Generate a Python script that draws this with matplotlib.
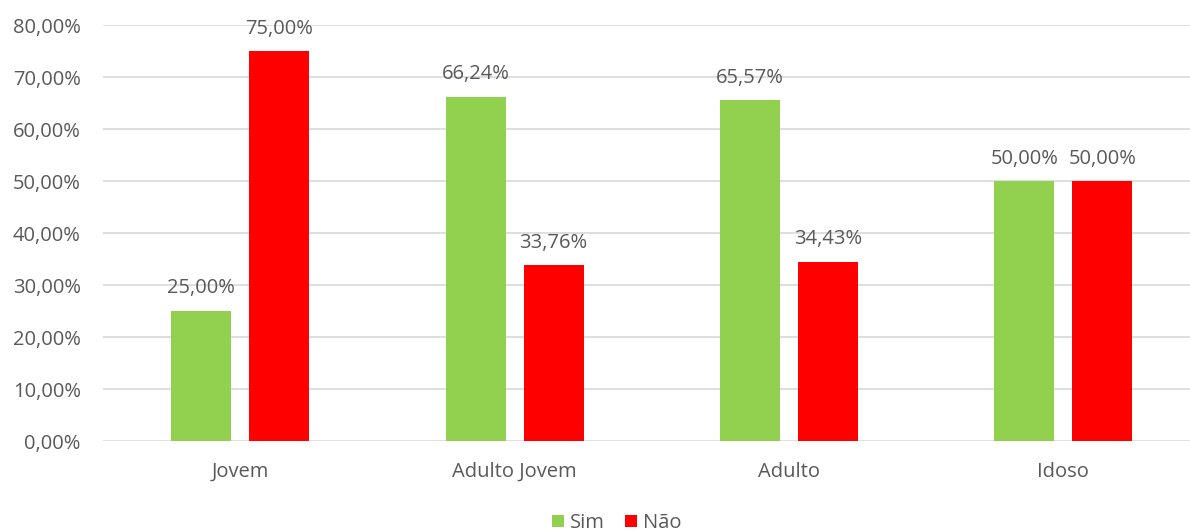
import matplotlib.pyplot as plt
import numpy as np

categories = ['Jovem', 'Adulto Jovem', 'Adulto', 'Idoso']
sim = [25.00, 66.24, 65.57, 50.00]
nao = [75.00, 33.76, 34.43, 50.00]
yticks = [0, 10, 20, 30, 40, 50, 60, 70, 80]

plt.rcParams['font.family'] = ['Open Sans', 'DejaVu Sans']
grey = '#595959'
fs = 14.5

fig = plt.figure(figsize=(11.9, 5.32), dpi=100)
ax = fig.add_axes([103 / 1190, 91 / 532, 1 - 103 / 1190, 416 / 532])

x = np.arange(len(categories))
w = 0.2186
off = 0.142
b1 = ax.bar(x - off, sim, w, color='#92D050', label='Sim', zorder=3)
b2 = ax.bar(x + off, nao, w, color='#FF0000', label='Não', zorder=3)

def fmt(v):
    return f'{v:.2f}'.replace('.', ',') + '%'

for bars, vals in ((b1, sim), (b2, nao)):
    for r, v in zip(bars, vals):
        ax.annotate(fmt(v), (r.get_x() + r.get_width() / 2, v),
                    xytext=(0, 9), textcoords='offset points',
                    ha='center', va='bottom', fontsize=fs, color=grey)

ax.set_xlim(-0.5, -0.5 + (1190 - 102.5) / 274.5)
ax.set_ylim(0, 80)
ax.set_yticks(yticks)
ax.set_yticklabels([fmt(v) for v in yticks], fontsize=fs, color=grey)
ax.set_xticks(x)
ax.set_xticklabels(categories, fontsize=fs, color=grey)
ax.tick_params(length=0)
ax.tick_params(axis='x', pad=15)
ax.tick_params(axis='y', pad=16)
ax.grid(axis='y', color='#D9D9D9', linewidth=1.2, zorder=0)
for s in ax.spines.values():
    s.set_visible(False)

fig.legend(handles=[b1, b2], loc='lower center', bbox_to_anchor=(0.518, -0.036),
           ncol=2, frameon=False, fontsize=fs, labelcolor=grey,
           handlelength=0.6, handleheight=0.6, handletextpad=0.3, columnspacing=1.0)

fig.savefig('out.png', dpi=100)
